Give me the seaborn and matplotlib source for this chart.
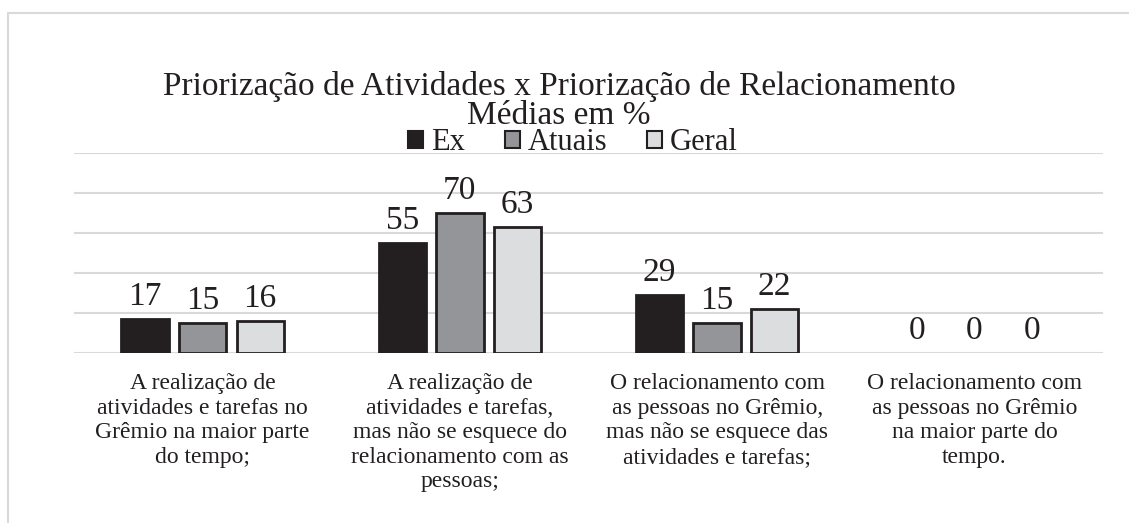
import pandas as pd
import matplotlib.pyplot as plt
import seaborn as sns
from matplotlib.patches import Rectangle
from matplotlib.lines import Line2D

# Data
categorias = [
    "A realização de\natividades e tarefas no\nGrêmio na maior parte\ndo tempo;",
    "A realização de\natividades e tarefas,\nmas não se esquece do\nrelacionamento com as\npessoas;",
    "O relacionamento com\nas pessoas no Grêmio,\nmas não se esquece das\natividades e tarefas;",
    "O relacionamento com\nas pessoas no Grêmio\nna maior parte do\ntempo.",
]
series = ["Ex", "Atuais", "Geral"]
ex = [17, 55, 29, 0]
atuais = [15, 70, 15, 0]
geral = [16, 63, 22, 0]
cores = ["#231f20", "#939598", "#dcdddf"]

df = pd.DataFrame({
    "categoria": categorias * 3,
    "grupo": [s for s in series for _ in categorias],
    "valor": ex + atuais + geral,
})

sns.set_style("white")
plt.rcParams["font.family"] = ["Liberation Serif", "DejaVu Serif"]

fig = plt.figure(figsize=(11.29, 5.23), dpi=100)
ax = fig.add_axes([74 / 1129, 170 / 523, 1029 / 1129, 200 / 523])

sns.barplot(data=df, x="categoria", y="valor", hue="grupo", palette=cores,
            width=0.672, gap=0.18, edgecolor="#231f20", linewidth=2,
            saturation=1, ax=ax, legend=False)

# zero-height bars show no outline
for p in ax.patches:
    if p.get_height() == 0:
        p.set_linewidth(0)

ax.set_ylim(0, 100)
ax.set_yticks([0, 20, 40, 60, 80, 100])
ax.yaxis.grid(True, color="#d9d9d9", linewidth=1.5)
ax.set_axisbelow(True)
ax.tick_params(axis="y", left=False, labelleft=False)
ax.tick_params(axis="x", bottom=False, labelsize=17, pad=11)
for lbl in ax.get_xticklabels():
    lbl.set_linespacing(1.22)
    lbl.set_color("#231f20")
for s in ax.spines.values():
    s.set_visible(False)
ax.set_xlabel("")
ax.set_ylabel("")

for cont in ax.containers:
    ax.bar_label(cont, fmt="%d", padding=5, fontsize=24, color="#231f20")

# legend
handles = [Rectangle((0, 0), 1, 1, facecolor=c, edgecolor="#231f20", linewidth=1.5)
           for c in cores]
leg = fig.legend(handles, series, loc="center", bbox_to_anchor=(573 / 1129, 1 - 143 / 523),
                 ncol=3, frameon=False, fontsize=22, handlelength=0.5, handleheight=0.5,
                 handletextpad=0.25, columnspacing=1.3, borderpad=0.1)
for t in leg.get_texts():
    t.set_color("#231f20")

fig.text(559 / 1129, 1 - 95 / 523, "Priorização de Atividades x Priorização de Relacionamento",
         ha="center", va="baseline", fontsize=24, color="#231f20")
fig.text(559 / 1129, 1 - 124 / 523, "Médias em %",
         ha="center", va="baseline", fontsize=24, color="#231f20")

# chart frame (top and left edges visible)
fig.lines.append(Line2D([8 / 1129, 1.0], [1 - 12.5 / 523] * 2, transform=fig.transFigure,
                        color="#d9d9d9", linewidth=1.5))
fig.lines.append(Line2D([8 / 1129] * 2, [0, 1 - 12.5 / 523], transform=fig.transFigure,
                        color="#d9d9d9", linewidth=1.5))

fig.savefig("out.png", dpi=100)
